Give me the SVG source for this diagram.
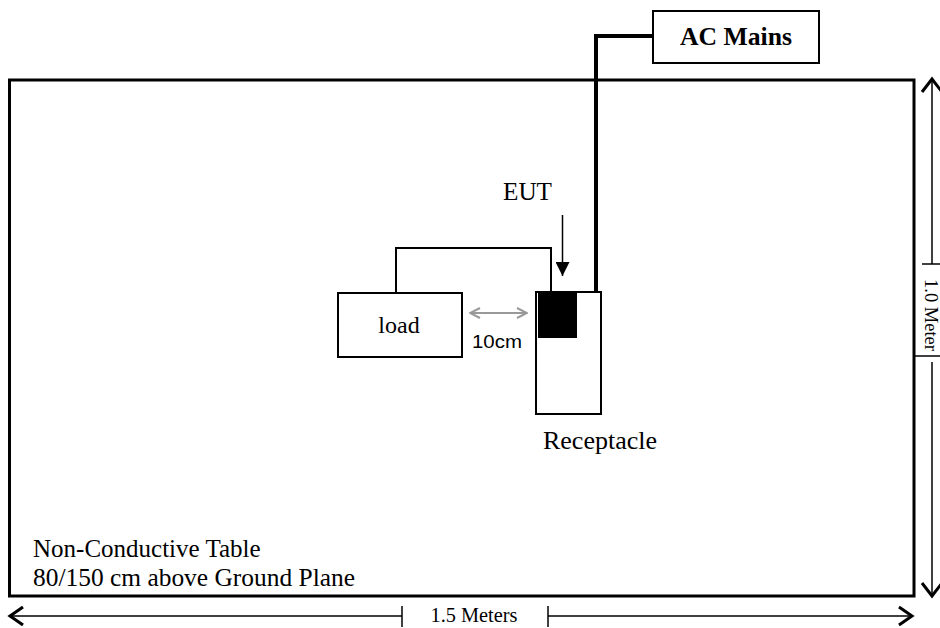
<svg xmlns="http://www.w3.org/2000/svg" width="940" height="628" viewBox="0 0 940 628">
<style>
.serif{font-family:"Liberation Serif","Times New Roman",serif;fill:#000}
.sans{font-family:"Liberation Sans",Arial,sans-serif;fill:#000}
.box{fill:#fff;stroke:#000;stroke-width:2}
.thin{fill:none;stroke:#000;stroke-width:1.5}
.wire{fill:none;stroke:#000;stroke-width:2}
.mains{fill:none;stroke:#000;stroke-width:4}
.chev{fill:none;stroke:#000;stroke-width:3;stroke-linejoin:miter}
</style>
<defs>
<marker id="grayArrow" viewBox="0 0 12 12" refX="11" refY="6" markerWidth="12" markerHeight="12" markerUnits="userSpaceOnUse" orient="auto-start-reverse">
<path d="M1,1 L11,6 L1,11" fill="none" stroke="#999" stroke-width="2"/>
</marker>
<marker id="blackTri" viewBox="0 0 14 14" refX="7" refY="14" markerWidth="14" markerHeight="14" markerUnits="userSpaceOnUse" orient="0">
<path d="M0,0 L14,0 L7,14 Z" fill="#000"/>
</marker>
</defs>
<g id="table">
<rect x="9.5" y="80" width="904.5" height="516" fill="#fff" stroke="#000" stroke-width="3"/>
<text class="serif" x="33" y="557" font-size="25">Non-Conductive Table</text>
<text class="serif" x="33" y="586" font-size="25" textLength="322" lengthAdjust="spacingAndGlyphs">80/150 cm above Ground Plane</text>
</g>
<g id="connectors">
<path class="mains" d="M653,36 H596 V293"/>
<path class="wire" d="M396,293 V248 H551 V292"/>
<line x1="562.5" y1="215" x2="562.5" y2="276" stroke="#000" stroke-width="1.5" marker-end="url(#blackTri)"/>
<line x1="470" y1="313" x2="527" y2="313" stroke="#999" stroke-width="2" marker-start="url(#grayArrow)" marker-end="url(#grayArrow)"/>
</g>
<g id="ac-mains">
<rect class="box" x="653" y="11" width="166" height="52"/>
<text class="serif" x="736" y="45" font-size="25" font-weight="bold" text-anchor="middle" textLength="112" lengthAdjust="spacingAndGlyphs">AC Mains</text>
</g>
<g id="load">
<rect class="box" x="338" y="293" width="124" height="64"/>
<text class="serif" x="399" y="333" font-size="24" text-anchor="middle">load</text>
</g>
<g id="receptacle">
<rect class="box" x="536" y="292" width="65" height="122"/>
<rect x="538" y="293" width="39" height="45" fill="#000"/>
<text class="serif" x="543" y="449" font-size="25" textLength="114" lengthAdjust="spacingAndGlyphs">Receptacle</text>
</g>
<g id="eut">
<text class="serif" x="527.5" y="200" font-size="25" text-anchor="middle" textLength="49" lengthAdjust="spacingAndGlyphs">EUT</text>
</g>
<g id="gap-label">
<text class="sans" x="497" y="348" font-size="18" text-anchor="middle" textLength="50" lengthAdjust="spacingAndGlyphs">10cm</text>
</g>
<g id="dim-width">
<line class="thin" x1="10" y1="616" x2="402" y2="616"/>
<line class="thin" x1="402" y1="606" x2="402" y2="627"/>
<line class="thin" x1="548" y1="606" x2="548" y2="627"/>
<line class="thin" x1="548" y1="616" x2="911" y2="616"/>
<path class="chev" d="M23,607 L10,616 L23,625"/>
<path class="chev" d="M899,607 L912,616 L899,625"/>
<text class="serif" x="474" y="622" font-size="20" text-anchor="middle" textLength="87" lengthAdjust="spacingAndGlyphs">1.5 Meters</text>
</g>
<g id="dim-height">
<line class="thin" x1="932" y1="80" x2="932" y2="264"/>
<line class="thin" x1="922" y1="264" x2="940" y2="264"/>
<line class="thin" x1="914" y1="356" x2="940" y2="356"/>
<line class="thin" x1="932" y1="362" x2="932" y2="595"/>
<path class="chev" d="M922,92 L932,79 L942,92"/>
<path class="chev" d="M922,583 L932,596 L942,583"/>
<text class="serif" transform="translate(925,279) rotate(90)" font-size="18" textLength="72" lengthAdjust="spacingAndGlyphs">1.0 Meter</text>
</g>
</svg>
